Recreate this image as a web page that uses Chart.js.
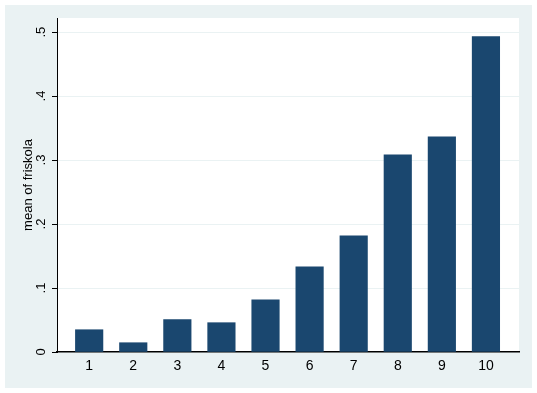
<!DOCTYPE html>
<html>
<head>
<meta charset="utf-8">
<script src="https://cdn.jsdelivr.net/npm/chart.js@4.4.0/dist/chart.umd.min.js"></script>
<style>
  html, body { margin: 0; padding: 0; background: #ffffff; }
  #wrap { width: 537px; height: 393px; }
</style>
</head>
<body>
<div id="wrap"><canvas id="grafica"></canvas></div>
<script>
// datos del grafico
const categorias = ['1', '2', '3', '4', '5', '6', '7', '8', '9', '10'];
const mediaFriskola = [0.0348, 0.0145, 0.0505, 0.0458, 0.0817, 0.1333, 0.1817, 0.3083, 0.3364, 0.4930];
const yTicks = [0, 0.1, 0.2, 0.3, 0.4, 0.5];
const yTickLabels = ['0', '.1', '.2', '.3', '.4', '.5'];
const tituloY = 'mean of friskola';

const fondo = '#eaf2f3';
const azul = '#1a476f';
const fuente = 'Liberation Sans, Arial, sans-serif';

const ctx = document.getElementById('grafica');

// fondo gris azulado y area blanca del grafico
const fondoPlugin = {
  id: 'fondo',
  beforeDraw: (chart) => {
    const c = chart.ctx;
    const a = chart.chartArea;
    c.save();
    c.fillStyle = '#ffffff';
    c.fillRect(0, 0, chart.width, chart.height);
    c.fillStyle = fondo;
    c.fillRect(5, 5, 527, 383);
    c.fillStyle = '#ffffff';
    c.fillRect(a.left, a.top, a.right - a.left, a.bottom - a.top);
    c.restore();
  }
};

// etiquetas del eje y giradas (como en Stata)
const etiquetasY = {
  id: 'etiquetasY',
  afterDraw: (chart) => {
    const c = chart.ctx;
    const y = chart.scales.y;
    c.save();
    c.fillStyle = '#000000';
    c.font = '13px ' + fuente;
    c.textAlign = 'center';
    c.textBaseline = 'middle';
    yTicks.forEach((v, i) => {
      c.save();
      c.translate(41, y.getPixelForValue(v));
      c.rotate(-Math.PI / 2);
      c.fillText(yTickLabels[i], 0, 0);
      c.restore();
    });
    c.restore();
  }
};

const graficaFriskola = new Chart(ctx, {
  type: 'bar',
  data: {
    datasets: [{
      label: tituloY,
      data: categorias.map((c, i) => ({ x: i + 1, y: mediaFriskola[i] })),
      backgroundColor: azul,
      borderWidth: 0,
      barThickness: 27.5
    }]
  },
  options: {
    responsive: true,
    maintainAspectRatio: false,
    animation: false,
    layout: { padding: { left: 0, right: 18, top: 18, bottom: 0 } },
    plugins: {
      legend: { display: false },
      tooltip: { enabled: false }
    },
    scales: {
      x: {
        type: 'linear',
        offset: false,
        min: 0.27,
        max: 10.75,
        afterBuildTicks: (scale) => {
          scale.ticks = categorias.map((c, i) => ({ value: i + 1 }));
        },
        afterFit: (scale) => { scale.height = 41; },
        grid: { display: false, drawTicks: false, offset: false },
        border: { display: true, color: '#000000', width: 1.5 },
        ticks: {
          color: '#000000',
          font: { family: fuente, size: 14 },
          padding: 6,
          maxRotation: 0,
          callback: (v) => categorias[Math.round(v) - 1]
        }
      },
      y: {
        min: 0,
        max: 0.522,
        afterBuildTicks: (scale) => {
          scale.ticks = yTicks.map(v => ({ value: v }));
        },
        afterFit: (scale) => { scale.width = 57; },
        grid: {
          color: (c) => c.tick && c.tick.value === 0 ? 'rgba(0,0,0,0)' : fondo,
          lineWidth: 1,
          drawTicks: true,
          tickLength: 5,
          tickColor: '#000000'
        },
        border: { display: true, color: '#000000', width: 1 },
        ticks: { display: false },
        title: {
          display: true,
          text: tituloY,
          color: '#000000',
          font: { family: fuente, size: 13 },
          padding: { top: 21, bottom: 0 }
        }
      }
    }
  },
  plugins: [fondoPlugin, etiquetasY]
});
</script>
</body>
</html>
